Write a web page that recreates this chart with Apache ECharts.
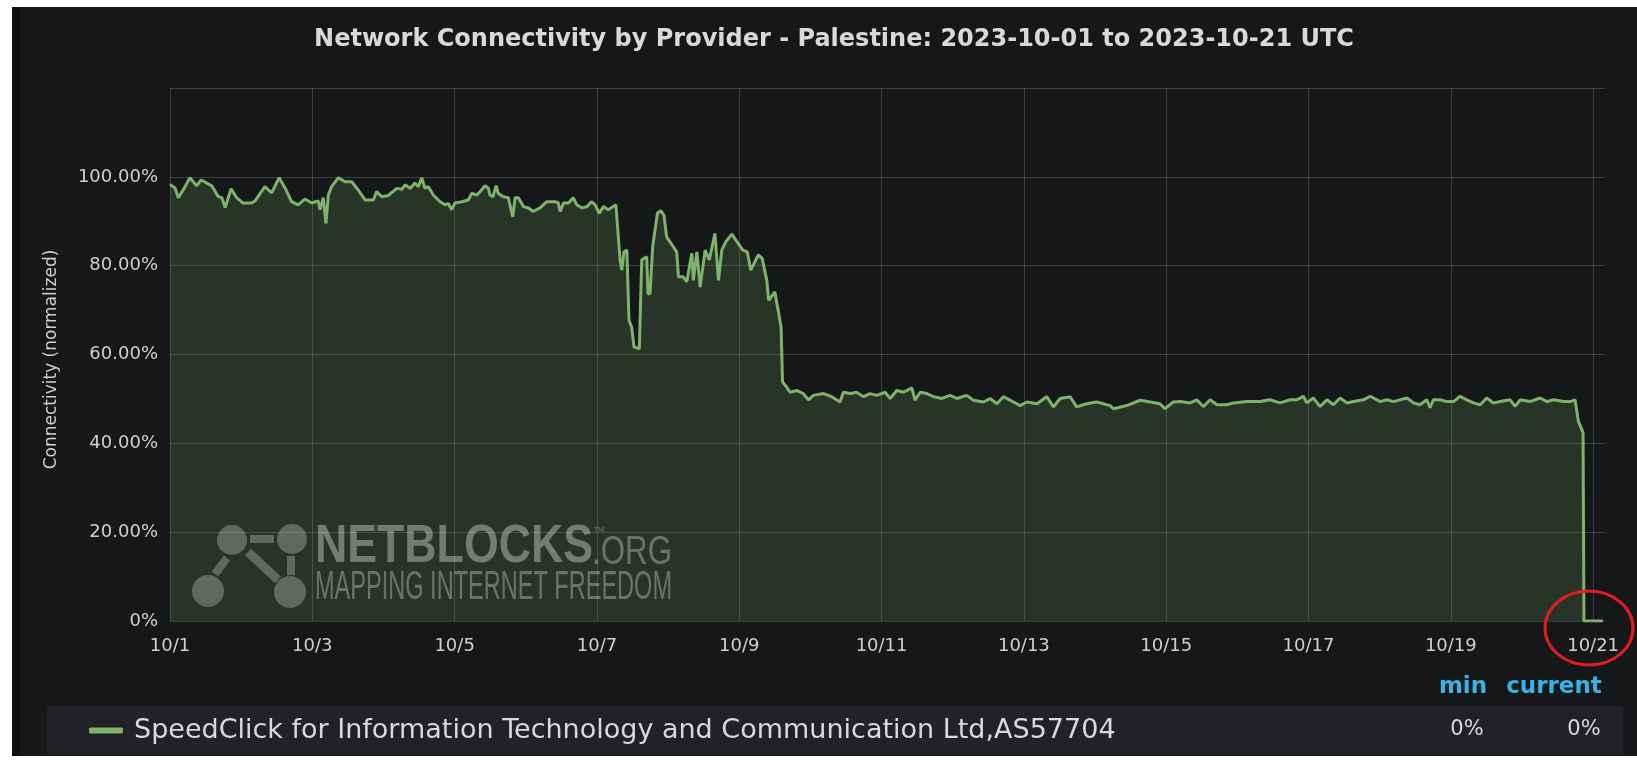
<!DOCTYPE html>
<html><head><meta charset="utf-8">
<script src="https://cdn.jsdelivr.net/npm/echarts@6/dist/echarts.min.js"></script>
<style>
html,body{margin:0;padding:0;background:#fff;}
#wrap{position:relative;width:1637px;height:762px;overflow:hidden;background:#fff;}
#panel{position:absolute;left:12px;top:7px;width:1625px;height:749px;background:#161719;}
#strip{position:absolute;left:12px;top:7px;width:8px;height:749px;background:#0d0e10;}
#chart{position:absolute;left:0;top:0;width:1637px;height:762px;}
</style></head>
<body><div id="wrap"><div id="panel"></div><div id="strip"></div><div id="chart"></div></div>
<script>
// hours since 2023-10-01 00:00 UTC
const hours = [0,1.7,2.8,4.4,6.7,9,10.5,12.4,14.1,16.2,17.5,18.6,20.6,22.5,24.6,27.6,28.7,32,34.3,36.8,38.8,41,43.2,45.5,47.8,50,50.6,51.7,52.6,53.4,54.5,56.8,59,61.3,63.5,65.8,68.6,69.7,71.4,73.6,
76.5,78.2,79.3,81,82.6,83.8,84.9,86,87.1,88.8,91.1,92.8,93.9,95,96.1,98.4,100.6,101.8,103.5,104.6,106.3,107.4,107.9,108.9,110,110.7,112.4,114.1,115.6,116.4,117.5,119.2,120.9,122.5,124.8,127.1,129.9,130.9,131.6,132.7,134.4,136,137.2,138.9,140.6,142.2,143.4,144.8,146.2,147.8,149.5,150.4,
151.8,152.4,153.1,154.1,154.8,155.7,156.5,158.3,159.1,160.8,161.2,161.9,162.8,164.4,165.5,166.6,167.5,170.9,171.5,173.1,174.3,176,176.5,177.7,178.8,180.5,181.9,183.8,185,186.1,187.5,189.5,191.2,193.2,194.7,195.9,198.4,199.7,201.3,201.9,204,205.2,206.1,206.6,
208,209.1,211.4,213.6,215.3,217,220.4,223.2,226,227.1,229.4,231.6,233.9,236.1,238.4,241.2,242.9,245.1,247.4,250.2,251.3,253,255.3,257.5,260.4,263.1,265.4,268.7,271,274.4,276.6,278.9,281.1,284.5,286.7,289,292.4,295.7,298,300.2,303.6,305.8,309.2,312.6,317.1,318.2,322.7,327.2,330.6,333.9,335.6,338.4,
340.8,344.1,346.3,348.6,350.8,353.1,356.4,358.7,363.2,367.7,371,374.4,377.8,380,382.3,383.4,385.6,387.9,390.2,392.4,394.7,396.9,399.2,402.5,404.8,408.2,410.4,412.7,417.2,419.4,421.6,423.9,425,426.1,428.4,430.6,432.9,435.1,437.4,439.6,441.9,444.1,446.4,448.6,452,453.7,455.4,458.7,462.1,464.4,466.6,470,472.2,473.9,475,476.6,476.9,483.3];

// normalized connectivity, percent
const connectivity = [98.3,97.5,95.3,97,99.8,98,99.3,98.6,98,95.6,95.3,93.1,97.3,95.3,94.1,94.1,94.6,97.8,96.4,99.8,97.5,94.4,93.7,95,94.1,94.6,92.6,95.3,89.5,95.9,97.8,99.8,98.9,98.9,97,94.8,94.8,96.7,95.5,95.8,
97.4,97.2,98.2,97.4,98.6,97.8,99.8,97.4,97.8,95.9,94.4,93.7,94,92.6,94.1,94.4,94.8,96.3,95.9,96.7,98,97.4,95.9,95.5,98,96.3,95.5,95.3,91,95.3,95.3,93.3,93,92.2,93,94.4,94.4,94.2,92.2,94.1,94.1,95.3,93.7,93,93.3,94.4,93.7,91.8,93.3,92.6,93.3,93.7,
81.3,79,83.1,83.5,67.7,66.2,61.7,61.3,81.3,82,73.7,73.7,84.3,91.8,92.4,91.4,86.5,83.1,77.5,77.5,76.4,82.8,76.7,83.1,75.2,83.5,81.3,87.3,76.7,83.5,85.4,87.1,85.4,83.5,83.1,79,82.4,81.7,76.7,72.2,74.1,69.6,66.2,53.8,
52.7,51.5,51.9,51.2,49.8,50.8,51.2,50.5,49.3,51.5,51.2,51.5,50.5,51.2,50.8,51.5,50.1,51.9,51.5,52.5,49.7,51.5,51.2,50.5,50.1,50.8,50.1,50.8,49.7,49.3,50.1,48.9,50.5,49.3,48.5,49.3,48.9,50.5,48.2,50.1,50.5,48.2,48.9,49.3,48.5,47.8,48.5,49.7,49.3,48.9,47.8,49.3,
49.4,49.1,49.8,48.3,49.8,48.7,48.7,49.1,49.4,49.4,49.8,49.1,49.8,49.8,50.6,49.1,50.2,48.3,49.8,48.7,50.2,49.1,49.4,49.8,50.6,49.4,49.8,49.4,50.2,49.1,48.7,49.8,48,49.8,49.8,49.4,49.4,50.6,49.8,49.1,48.7,50.2,49.1,49.4,49.8,48.3,49.8,49.4,50.2,49.4,49.8,49.4,49.4,49.8,45,42.4,0,0];

const xTickLabels = ['10/1','10/3','10/5','10/7','10/9','10/11','10/13','10/15','10/17','10/19','10/21'];
const seriesName = 'SpeedClick for Information Technology and Communication Ltd,AS57704';
const titleText = 'Network Connectivity by Provider - Palestine: 2023-10-01 to 2023-10-21 UTC';
const yAxisName = 'Connectivity (normalized)';
const statHeaders = ['min', 'current'];

const minVal = Math.min.apply(null, connectivity);
const curVal = connectivity[connectivity.length - 1];
const fmtPct = v => (v === 0 ? '0%' : v.toFixed(2) + '%');

function fitScale(text, font, target) {
  const c = document.createElement('canvas').getContext('2d');
  c.font = font;
  return target / c.measureText(text).width;
}

const wmFill = 'rgba(215,222,212,0.40)';
const wmLogo = 'rgba(215,222,212,0.34)';
const fNet = 'bold 54px "Liberation Sans"';
const fOrg = '40px "Liberation Sans"';
const fMap = '40px "Liberation Sans"';

const chart = echarts.init(document.getElementById('chart'), null, {renderer: 'canvas'});
const gridColor = 'rgba(255,255,255,0.17)';
const tickColor = '#cfd0d2';
const font = '"DejaVu Sans"';

chart.setOption({
  animation: false,
  title: {
    text: titleText, left: 834, top: 28, padding: 0, textAlign: 'center',
    textStyle: {color: '#d8d9da', fontSize: 24, fontWeight: 'bold', fontFamily: font}
  },
  grid: {left: 170, top: 88, right: 32, bottom: 141},
  xAxis: {
    type: 'value', min: 0, max: 484, interval: 48,
    axisLine: {show: false}, axisTick: {show: false},
    splitLine: {show: true, showMinLine: true, showMaxLine: false, lineStyle: {color: gridColor, width: 1}},
    axisLabel: {
      showMaxLabel: false, margin: 16, color: tickColor, fontSize: 18, fontFamily: font,
      formatter: v => (v % 48 === 0 ? xTickLabels[v / 48] : '')
    }
  },
  yAxis: {
    type: 'value', min: 0, max: 120, interval: 20,
    name: yAxisName, nameLocation: 'middle', nameGap: 110, nameRotate: 90,
    nameTextStyle: {color: tickColor, fontSize: 17, fontFamily: font, padding: [0, 10, 0, 0]},
    axisLine: {show: false}, axisTick: {show: false},
    splitLine: {show: true, lineStyle: {color: gridColor, width: 1}},
    axisLabel: {
      margin: 12, color: tickColor, fontSize: 18, fontFamily: font,
      formatter: v => (v > 100.001 ? '' : fmtPct(v))
    }
  },
  legend: {
    data: [seriesName], left: 89, top: 717, padding: 0, selectedMode: false,
    icon: 'roundRect', itemWidth: 34, itemHeight: 6, z: 10,
    textStyle: {color: '#d8d9da', fontSize: 27, fontFamily: font, padding: [0, 0, 0, 6]}
  },
  series: [{
    type: 'line', name: seriesName,
    data: hours.map((h, i) => [h, connectivity[i]]),
    showSymbol: false, symbol: 'none',
    lineStyle: {color: '#7eb26d', width: 3},
    itemStyle: {color: '#7eb26d'},
    areaStyle: {color: 'rgba(126,178,109,0.27)'},
    z: 2
  }],
  graphic: [
    {type: 'rect', z: 1, shape: {x: 47, y: 706, width: 1576, height: 49}, style: {fill: '#212226'}},
    {type: 'text', z: 10, x: 1463, y: 687, style: {text: statHeaders[0], fill: '#33b5e5', font: 'bold 23px "DejaVu Sans"', align: 'center', verticalAlign: 'middle'}},
    {type: 'text', z: 10, x: 1554, y: 687, style: {text: statHeaders[1], fill: '#33b5e5', font: 'bold 23px "DejaVu Sans"', align: 'center', verticalAlign: 'middle'}},
    {type: 'text', z: 10, x: 1467, y: 730, style: {text: fmtPct(minVal), fill: '#d8d9da', font: '21px "DejaVu Sans"', align: 'center', verticalAlign: 'middle'}},
    {type: 'text', z: 10, x: 1584, y: 730, style: {text: fmtPct(curVal), fill: '#d8d9da', font: '21px "DejaVu Sans"', align: 'center', verticalAlign: 'middle'}},
    {type: 'ellipse', z: 100, shape: {cx: 1589, cy: 628, rx: 44, ry: 37}, style: {fill: 'none', stroke: '#e01e1e', lineWidth: 3}},
    {
      type: 'group', z: 50, silent: true,
      children: [
        {type: 'circle', shape: {cx: 232, cy: 540, r: 15}, style: {fill: wmLogo}},
        {type: 'circle', shape: {cx: 292, cy: 539, r: 15}, style: {fill: wmLogo}},
        {type: 'circle', shape: {cx: 208, cy: 591, r: 16}, style: {fill: wmLogo}},
        {type: 'circle', shape: {cx: 290, cy: 592, r: 16}, style: {fill: wmLogo}},
        {type: 'rect', shape: {x: 250, y: 535, width: 24, height: 8}, style: {fill: wmLogo}},
        {type: 'rect', shape: {x: 287, y: 556, width: 8, height: 19}, style: {fill: wmLogo}},
        {type: 'line', shape: {x1: 227, y1: 558, x2: 215, y2: 574}, style: {stroke: wmLogo, lineWidth: 8}},
        {type: 'line', shape: {x1: 248, y1: 552, x2: 278, y2: 580}, style: {stroke: wmLogo, lineWidth: 9}},
        {type: 'text', x: 315, y: 547, scaleX: fitScale('NETBLOCKS', fNet, 278), style: {text: 'NETBLOCKS', font: fNet, fill: 'rgba(215,222,212,0.46)', verticalAlign: 'middle'}},
        {type: 'text', x: 593, y: 532, style: {text: '™', font: '12px "Liberation Sans"', fill: wmFill, verticalAlign: 'middle'}},
        {type: 'text', x: 592, y: 553, scaleX: fitScale('.ORG', fOrg, 80), style: {text: '.ORG', font: fOrg, fill: wmFill, verticalAlign: 'middle'}},
        {type: 'text', x: 315, y: 588, scaleX: fitScale('MAPPING INTERNET FREEDOM', fMap, 357), style: {text: 'MAPPING INTERNET FREEDOM', font: fMap, fill: wmFill, verticalAlign: 'middle'}}
      ]
    }
  ]
});
</script>
</body></html>
